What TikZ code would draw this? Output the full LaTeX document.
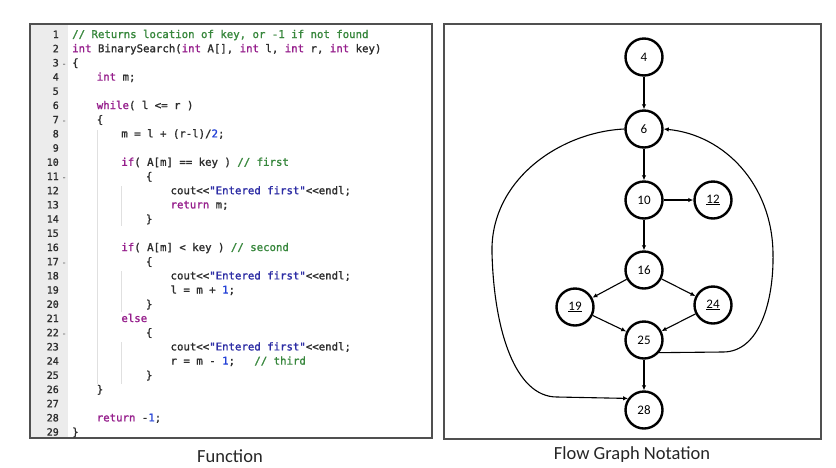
\documentclass[tikz,border=0pt]{standalone}
\usepackage{fontspec}
\usetikzlibrary{arrows.meta}
\newfontfamily\codefont{DejaVu Sans Mono}[FakeBold=1.4]
\newfontfamily\capfont{Carlito}
\definecolor{kwcol}{RGB}{150,30,140}
\definecolor{cmcol}{RGB}{55,135,60}
\definecolor{stcol}{RGB}{45,45,165}
\definecolor{nmcol}{RGB}{35,65,215}
\definecolor{txtcol}{RGB}{45,45,45}
\definecolor{guttercol}{RGB}{236,236,236}
\definecolor{framecol}{RGB}{80,80,80}
\newcommand{\kw}[1]{\textcolor{kwcol}{#1}}
\newcommand{\cm}[1]{\textcolor{cmcol}{#1}}
\newcommand{\st}[1]{\textcolor{stcol}{#1}}
\newcommand{\nm}[1]{\textcolor{nmcol}{#1}}
\newcommand{\codeline}[3]{\node[code] (l#1) at ({72+24.6*#2},{38+14.2*(#1-1)}) {#3};}
\begin{document}
\begin{tikzpicture}[x=1pt,y=-1pt,
    code/.style={anchor=base west, inner sep=0pt, text=txtcol, font=\codefont\fontsize{10.7}{12}\selectfont},
    lnum/.style={anchor=base east, inner sep=0pt, text=txtcol, font=\codefont\fontsize{10}{12}\selectfont},
    fold/.style={anchor=base west, inner sep=0pt, text=gray, font=\codefont\fontsize{8}{10}\selectfont},
    guide/.style={draw=black!12, line width=0.6pt},
    frame/.style={draw=framecol, line width=1.8pt},
    caption/.style={font=\capfont\fontsize{18.5}{20}\selectfont, text=black!85},
    vtx/.style={circle, draw, line width=2.4pt, minimum size=37pt, inner sep=0pt, font=\capfont\fontsize{13}{14}\selectfont},
    flow/.style={-{Latex[length=5pt,width=4.5pt]}, line width=1.1pt}]
\useasboundingbox (0,0) rectangle (836,467);
\fill[white] (0,0) rectangle (836,467);

\fill[guttercol] (30,24) rectangle (68,438);
\draw[guide] (97,130) -- (97,384);
\draw[guide] (121,186) -- (121,226);
\draw[guide] (121,271) -- (121,312);
\draw[guide] (121,342) -- (121,384);
\draw[frame] (30,24) rectangle (432,438);

\foreach \i in {1,...,29}
    \node[lnum] (n\i) at (59,{38+14.2*(\i-1)}) {\i};
\foreach \i in {3,7,11,17,22}
    \node[fold] (f\i) at (61.5,{38+14.2*(\i-1)}) {-};

\codeline{1}{0}{\cm{// Returns location of key, or -1 if not found}}
\codeline{2}{0}{\kw{int} BinarySearch(\kw{int} A[], \kw{int} l, \kw{int} r, \kw{int} key)}
\codeline{3}{0}{\{}
\codeline{4}{1}{\kw{int} m;}
\codeline{6}{1}{\kw{while}( l <= r )}
\codeline{7}{1}{\{}
\codeline{8}{2}{m = l + (r-l)/\nm{2};}
\codeline{10}{2}{\kw{if}( A[m] == key ) \cm{// first}}
\codeline{11}{3}{\{}
\codeline{12}{4}{cout<<\st{"Entered first"}<<endl;}
\codeline{13}{4}{\kw{return} m;}
\codeline{14}{3}{\}}
\codeline{16}{2}{\kw{if}( A[m] < key ) \cm{// second}}
\codeline{17}{3}{\{}
\codeline{18}{4}{cout<<\st{"Entered first"}<<endl;}
\codeline{19}{4}{l = m + \nm{1};}
\codeline{20}{3}{\}}
\codeline{21}{2}{\kw{else}}
\codeline{22}{3}{\{}
\codeline{23}{4}{cout<<\st{"Entered first"}<<endl;}
\codeline{24}{4}{r = m - \nm{1};\ \ \ \cm{// third}}
\codeline{25}{3}{\}}
\codeline{26}{1}{\}}
\codeline{28}{1}{\kw{return} -\nm{1};}
\codeline{29}{0}{\}}

\node[caption] (fcap) at (230,456) {Function};

\draw[frame] (444,24) rectangle (821,439);

\node[vtx] (v4) at (644,57) {4};
\node[vtx] (v6) at (644,129) {6};
\node[vtx] (v10) at (644,200) {10};
\node[vtx] (v12) at (713,200) {\underline{12}};
\node[vtx] (v16) at (644,270) {16};
\node[vtx] (v19) at (575,307) {\underline{19}};
\node[vtx] (v24) at (713,305) {\underline{24}};
\node[vtx] (v25) at (644,340) {25};
\node[vtx] (v28) at (644,410) {28};

\draw[flow] (v4) -- (v6);
\draw[flow] (v6) -- (v10);
\draw[flow, line width=2.2pt] (v10) -- (v12);
\draw[flow] (v10) -- (v16);
\draw[flow] (v16) -- (v19);
\draw[flow] (v16) -- (v24);
\draw[flow] (v19) -- (v25);
\draw[flow] (v24) -- (v25);
\draw[flow] (v25) -- (v28);
\draw[flow] (v6.west) .. controls (560,132) and (490,180) .. (492,253)
    .. controls (494,330) and (515,397) .. (557,397) -- (v28.144);
\draw[flow] (v25.-40) -- (723,352) .. controls (760,352) and (774,300) .. (773,253)
    .. controls (772,185) and (725,135) .. (v6.east);

\node[caption] (gcap) at (632,455) {Flow Graph Notation};
\end{tikzpicture}
\end{document}
